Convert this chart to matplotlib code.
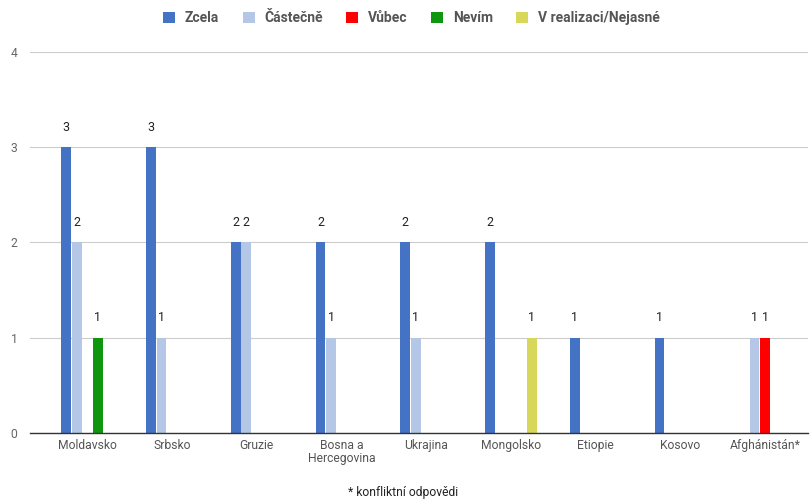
import numpy as np
import matplotlib.pyplot as plt
from matplotlib.patches import Patch

plt.rcParams['font.family'] = ['Roboto', 'DejaVu Sans']

countries = ['Moldavsko', 'Srbsko', 'Gruzie', 'Bosna a\nHercegovina', 'Ukrajina',
             'Mongolsko', 'Etiopie', 'Kosovo', 'Afghánistán*']
series_names = ['Zcela', 'Částečně', 'Vůbec', 'Nevím', 'V realizaci/Nejasné']
zcela = [3, 3, 2, 2, 2, 2, 1, 1, 0]
castecne = [2, 1, 2, 1, 1, 0, 0, 0, 1]
vubec = [0, 0, 0, 0, 0, 0, 0, 0, 1]
nevim = [1, 0, 0, 0, 0, 0, 0, 0, 0]
realizace = [0, 0, 0, 0, 0, 1, 0, 0, 0]
colors = ['#4472c4', '#b4c7e7', '#ff0000', '#0f960f', '#d7d75a']

series = [zcela, castecne, vubec, nevim, realizace]

fig = plt.figure(figsize=(8.1, 4.99), dpi=100)
ax = fig.add_axes([0.037, 0.1323, 0.961, 0.7635])

x = np.arange(len(countries))
w = 0.124
for k, vals in enumerate(series):
    pos = x + (k - 2) * w
    for xi, v in zip(pos, vals):
        if v > 0:
            ax.bar(xi, v, width=w * 0.92, color=colors[k], zorder=3)
            ax.annotate(str(v), (xi, v), xytext=(0, 14.5), textcoords='offset points',
                        ha='center', va='center', fontsize=9, color='#222222')

ax.set_xlim(-0.677, 8.51)
ax.set_ylim(0, 4)
ax.set_yticks([0, 1, 2, 3, 4])
ax.set_xticks(x)
ax.set_xticklabels(countries, fontsize=8.7, color='#555555', linespacing=1.0)
ax.tick_params(axis='x', length=0, pad=4)
ax.tick_params(axis='y', length=0, pad=9, labelsize=8.7, labelcolor='#666666')
ax.grid(axis='y', color='#cccccc', linewidth=0.8, zorder=0)
for s in ['top', 'right', 'left']:
    ax.spines[s].set_visible(False)
ax.spines['bottom'].set_color('#333333')
ax.spines['bottom'].set_linewidth(1.0)
ax.spines['bottom'].set_zorder(4)

handles = [Patch(facecolor=c, edgecolor='none') for c in colors]
fig.legend(handles, series_names, loc='center', bbox_to_anchor=(0.508, 0.963), ncol=5,
           frameon=False, handlelength=0.85, handleheight=0.85, handletextpad=0.7,
           columnspacing=1.7, prop={'weight': 'bold', 'size': 10}, labelcolor='#555555')

fig.text(0.497, 0.014, '* konfliktní odpovědi', ha='center', va='center',
         fontsize=8.7, color='#222222')

fig.savefig('out.png', dpi=100)
